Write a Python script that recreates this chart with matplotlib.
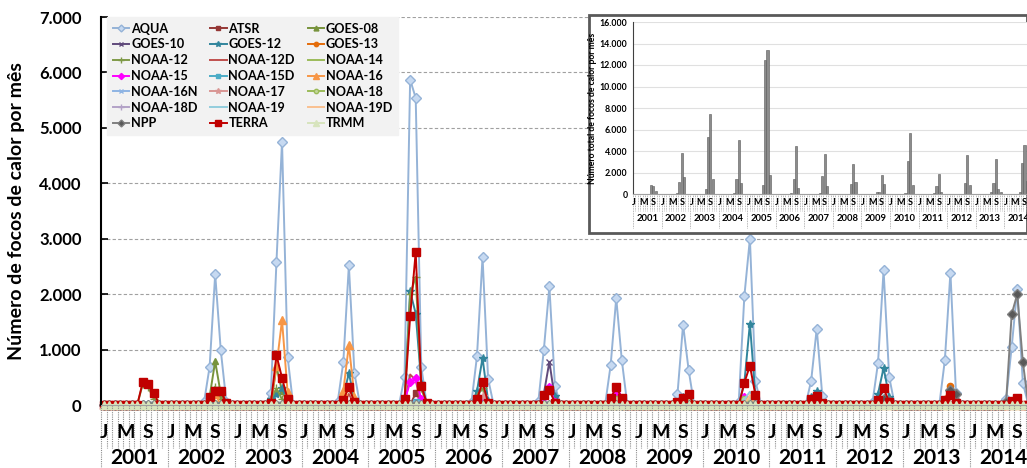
import numpy as np
import matplotlib.pyplot as plt
import matplotlib as mpl
from matplotlib import ticker
from matplotlib.patches import Rectangle

plt.rcParams['font.family'] = ['Lato', 'DejaVu Sans']
plt.rcParams['font.weight'] = 'bold'

# Data: monthly heat-spot counts, only non-zero months listed as (year, month): value
years = list(range(2001, 2015))
month_letters = ['J', '', '', '', 'M', '', '', '', 'S', '', '', '']

aqua = {(2002, 7): 50, (2002, 8): 690, (2002, 9): 2360, (2002, 10): 990, (2002, 11): 60,
        (2003, 7): 220, (2003, 8): 2580, (2003, 9): 4750, (2003, 10): 870,
        (2004, 7): 60, (2004, 8): 770, (2004, 9): 2520, (2004, 10): 575,
        (2005, 7): 510, (2005, 8): 5870, (2005, 9): 5540, (2005, 10): 690,
        (2006, 7): 40, (2006, 8): 880, (2006, 9): 2670, (2006, 10): 470,
        (2007, 7): 50, (2007, 8): 990, (2007, 9): 2140, (2007, 10): 340,
        (2008, 8): 720, (2008, 9): 1930, (2008, 10): 810,
        (2009, 8): 200, (2009, 9): 1450, (2009, 10): 630,
        (2010, 7): 60, (2010, 8): 1960, (2010, 9): 3000, (2010, 10): 430,
        (2011, 8): 440, (2011, 9): 1380, (2011, 10): 160,
        (2012, 7): 40, (2012, 8): 760, (2012, 9): 2430, (2012, 10): 510,
        (2013, 8): 810, (2013, 9): 2390, (2013, 10): 215,
        (2014, 7): 100, (2014, 8): 1050, (2014, 9): 2100, (2014, 10): 400}
atsr = {(2005, 9): 215, (2005, 10): 60, (2006, 9): 60}
goes08 = {(2002, 8): 150, (2002, 9): 790, (2002, 10): 200,
          (2003, 8): 690, (2003, 9): 250, (2003, 10): 50}
goes10 = {(2007, 8): 200, (2007, 9): 780, (2007, 10): 100, (2008, 9): 150}
goes12 = {(2003, 7): 100, (2003, 8): 200, (2003, 9): 300, (2003, 10): 80,
          (2004, 8): 150, (2004, 9): 575, (2004, 10): 100,
          (2005, 7): 110, (2005, 8): 2050, (2005, 9): 1650, (2005, 10): 400,
          (2006, 8): 250, (2006, 9): 850, (2006, 10): 70,
          (2007, 8): 180, (2007, 9): 250, (2007, 10): 170,
          (2009, 9): 150, (2009, 10): 60,
          (2010, 8): 400, (2010, 9): 1470, (2010, 10): 150,
          (2011, 8): 150, (2011, 9): 250,
          (2012, 8): 200, (2012, 9): 670, (2012, 10): 150}
goes13 = {(2013, 8): 100, (2013, 9): 340, (2014, 9): 100}
noaa12 = {(2001, 8): 380, (2001, 9): 320, (2001, 10): 100,
          (2002, 8): 120, (2002, 9): 330, (2002, 10): 100,
          (2003, 7): 100, (2003, 8): 300, (2003, 9): 100, (2003, 10): 70,
          (2004, 8): 140, (2004, 9): 300, (2004, 10): 100,
          (2005, 8): 2000, (2005, 9): 2310, (2005, 10): 300,
          (2006, 8): 170, (2006, 9): 300}
noaa12d = {(2004, 9): 200, (2005, 8): 550, (2005, 9): 450}
noaa14 = {(2001, 9): 50, (2002, 9): 80}
noaa15 = {(2005, 7): 80, (2005, 8): 410, (2005, 9): 480, (2005, 10): 100,
          (2006, 9): 90, (2007, 8): 150, (2007, 9): 330, (2007, 10): 50,
          (2008, 8): 60, (2008, 9): 215, (2008, 10): 50, (2010, 8): 140}
noaa15d = {(2005, 9): 60}
noaa16 = {(2002, 8): 50, (2002, 9): 200,
          (2003, 7): 50, (2003, 8): 700, (2003, 9): 1530, (2003, 10): 230,
          (2004, 8): 250, (2004, 9): 1080, (2004, 10): 150}
noaa16n = {(2005, 9): 40}
noaa17 = {(2006, 9): 170}
noaa18 = {(2008, 9): 100, (2009, 9): 50, (2009, 10): 70, (2010, 8): 100, (2010, 9): 100,
          (2011, 8): 50, (2011, 9): 60, (2012, 9): 100}
noaa18d = {(2010, 9): 40}
noaa19 = {(2010, 8): 100, (2010, 9): 240, (2010, 10): 95}
noaa19d = {(2010, 9): 180}
npp = {(2012, 9): 100, (2012, 10): 80, (2013, 8): 80, (2013, 9): 270, (2013, 10): 200,
       (2014, 7): 60, (2014, 8): 1640, (2014, 9): 2000, (2014, 10): 780}
terra = {(2001, 8): 415, (2001, 9): 380, (2001, 10): 215,
         (2002, 8): 150, (2002, 9): 250, (2002, 10): 250, (2002, 11): 40,
         (2003, 7): 30, (2003, 8): 900, (2003, 9): 490, (2003, 10): 100,
         (2004, 8): 90, (2004, 9): 325, (2004, 10): 50,
         (2005, 7): 100, (2005, 8): 1600, (2005, 9): 2760, (2005, 10): 350, (2005, 11): 30,
         (2006, 8): 100, (2006, 9): 420, (2006, 10): 40,
         (2007, 8): 180, (2007, 9): 270, (2007, 10): 40,
         (2008, 8): 120, (2008, 9): 325, (2008, 10): 120,
         (2009, 8): 60, (2009, 9): 120, (2009, 10): 190,
         (2010, 8): 400, (2010, 9): 710, (2010, 10): 175,
         (2011, 8): 110, (2011, 9): 160, (2011, 10): 30,
         (2012, 8): 90, (2012, 9): 300, (2012, 10): 60,
         (2013, 8): 90, (2013, 9): 180, (2013, 10): 40,
         (2014, 8): 70, (2014, 9): 120}
trmm = {}

# Totals shown in the inset bar chart
total = {(2001, 8): 800, (2001, 9): 700, (2001, 10): 300,
         (2002, 7): 100, (2002, 8): 1100, (2002, 9): 3800, (2002, 10): 1550,
         (2003, 7): 500, (2003, 8): 5300, (2003, 9): 7400, (2003, 10): 1400,
         (2004, 7): 100, (2004, 8): 1400, (2004, 9): 5000, (2004, 10): 1000,
         (2005, 7): 800, (2005, 8): 12500, (2005, 9): 13400, (2005, 10): 1800,
         (2006, 7): 100, (2006, 8): 1400, (2006, 9): 4500, (2006, 10): 600,
         (2007, 7): 100, (2007, 8): 1700, (2007, 9): 3700, (2007, 10): 700,
         (2008, 8): 950, (2008, 9): 2800, (2008, 10): 1100,
         (2009, 7): 150, (2009, 8): 200, (2009, 9): 1800, (2009, 10): 950,
         (2010, 7): 100, (2010, 8): 3100, (2010, 9): 5700, (2010, 10): 850,
         (2011, 7): 100, (2011, 8): 750, (2011, 9): 1850, (2011, 10): 150,
         (2012, 8): 1050, (2012, 9): 3600, (2012, 10): 800,
         (2013, 7): 200, (2013, 8): 1050, (2013, 9): 3250, (2013, 10): 500, (2013, 11): 150,
         (2014, 7): 150, (2014, 8): 2900, (2014, 9): 4550, (2014, 10): 1200}

names = ['AQUA', 'ATSR', 'GOES-08', 'GOES-10', 'GOES-12', 'GOES-13', 'NOAA-12', 'NOAA-12D',
         'NOAA-14', 'NOAA-15', 'NOAA-15D', 'NOAA-16', 'NOAA-16N', 'NOAA-17', 'NOAA-18',
         'NOAA-18D', 'NOAA-19', 'NOAA-19D', 'NPP', 'TERRA', 'TRMM']
series = [aqua, atsr, goes08, goes10, goes12, goes13, noaa12, noaa12d, noaa14, noaa15, noaa15d,
          noaa16, noaa16n, noaa17, noaa18, noaa18d, noaa19, noaa19d, npp, terra, trmm]

# styles: color, marker, marker face, size
styles = [('#95B3D7', 'D', '#C6D9F1', 5), ('#953735', 's', '#953735', 4.5),
          ('#77933C', '^', '#77933C', 5), ('#604A7B', 'x', '#604A7B', 5),
          ('#31859C', '*', '#31859C', 6), ('#E46C0A', 'o', '#E46C0A', 4.5),
          ('#7F9A48', '+', '#7F9A48', 6), ('#C0504D', '', None, 0),
          ('#9BBB59', '', None, 0), ('#FF00FF', 'D', '#FF00FF', 4.5),
          ('#4BACC6', 's', '#4BACC6', 4.5), ('#F79646', '^', '#F79646', 6),
          ('#8EB4E3', 'x', '#8EB4E3', 5), ('#D99694', '*', '#D99694', 6),
          ('#9BBB59', 'o', '#C3D69B', 4.5), ('#B3A2C7', '+', '#B3A2C7', 6),
          ('#93CDDD', '', None, 0), ('#FAC090', '', None, 0),
          ('#7F7F7F', 'D', '#595959', 5), ('#C00000', 's', '#C00000', 5.8),
          ('#D7E4BD', '^', '#D7E4BD', 6)]

n_months = len(years) * 12
month_keys = [(y, m) for y in years for m in range(1, 13)]


def to_array(d):
    return np.array([d.get(k, 0) for k in month_keys], dtype=float)


x = np.arange(n_months)
W, H = 1027, 468
fig = plt.figure(figsize=(W / 100, H / 100), dpi=100)

# Main axes
ax = fig.add_axes([101 / W, 1 - 405 / H, 1 - 101 / W, (405 - 17) / H])
for name, d, (c, mk, fc, ms) in zip(names, series, styles):
    ax.plot(x, to_array(d), color=c, lw=1.4, marker=mk if mk else None, markersize=ms,
            markerfacecolor=fc, markeredgecolor=c, markeredgewidth=1.0, label=name, clip_on=False)

ax.set_xlim(-0.5, -0.5 + (1027 - 101) / 5.57)
ax.set_ylim(0, 7000)
ax.yaxis.set_major_locator(ticker.MultipleLocator(1000))
ax.yaxis.set_major_formatter(ticker.FuncFormatter(lambda v, p: f"{int(v):,}".replace(",", ".")))
ax.tick_params(axis='y', direction='in', length=5, width=1.2, labelsize=12, pad=14, colors='black')
for lab in ax.get_yticklabels():
    lab.set_fontweight('bold')
ax.set_xticks([])
ax.grid(axis='y', linestyle=(0, (3, 2)), color='#A0A0A0', lw=0.8)
ax.set_axisbelow(True)
ax.spines['top'].set_visible(False)
ax.spines['right'].set_visible(False)
ax.spines['left'].set_linewidth(1.5)
ax.spines['bottom'].set_color('#A0A0A0')
ax.set_ylabel('Número de focos de calor por mês', fontsize=14, fontweight='bold', labelpad=10)

trans = mpl.transforms.blended_transform_factory(ax.transData, ax.transAxes)
for i in range(n_months + 1):
    year_edge = (i % 12 == 0)
    ax.plot([i - 0.5, i - 0.5], [0, -0.165 if year_edge else -0.11], transform=trans,
            color='#8C8C8C', lw=0.8, ls=(0, (1, 1)), clip_on=False)
for i, k in enumerate(month_keys):
    lt = month_letters[k[1] - 1]
    if lt:
        ax.text(i, -0.072, lt, transform=trans, ha='center', va='center', fontsize=14,
                fontweight='bold', clip_on=False)
for j, yr in enumerate(years):
    ax.text(j * 12 + 5.5, -0.137, str(yr), transform=trans, ha='center', va='center',
            fontsize=15, fontweight='bold', clip_on=False)

# Legend, filled row by row like the original
h, l = ax.get_legend_handles_labels()
order = [r * 3 + c for c in range(3) for r in range(7)]
leg = ax.legend([h[i] for i in order], [l[i] for i in order], ncol=3, loc='upper left',
                bbox_to_anchor=(107 / W, 1 - 17 / H), bbox_transform=fig.transFigure,
                fontsize=9.1, frameon=True, fancybox=False, handlelength=1.3, markerscale=0.7,
                handletextpad=0.15, columnspacing=1.0, labelspacing=0.3, borderpad=0.45,
                borderaxespad=0)
leg.get_frame().set_facecolor('#F2F2F2')
leg.get_frame().set_edgecolor('#F2F2F2')
leg.get_frame().set_alpha(1)
leg.set_zorder(1)
for t in leg.get_texts():
    t.set_fontweight('bold')

# Inset: totals per month
fig.patches.append(Rectangle((589 / W, 1 - 233 / H), (1027 - 589) / W, (233 - 15) / H,
                             transform=fig.transFigure, facecolor='white', edgecolor='#595959',
                             lw=2, zorder=5))
ax2 = fig.add_axes([633 / W, 1 - 194 / H, (1027 - 633) / W, (194 - 22) / H], zorder=6)
ax2.bar(x, to_array(total), width=0.9, color='#8C8C8C', edgecolor='#595959', lw=0.4)
ax2.set_xlim(-0.5, -0.5 + (1027 - 633) / 2.38)
ax2.set_ylim(0, 16000)
ax2.yaxis.set_major_locator(ticker.MultipleLocator(2000))
ax2.yaxis.set_major_formatter(ticker.FuncFormatter(lambda v, p: f"{int(v):,}".replace(",", ".")))
ax2.tick_params(axis='y', length=0, labelsize=6.3, pad=4)
for lab in ax2.get_yticklabels():
    lab.set_fontweight('bold')
ax2.set_xticks([])
ax2.grid(axis='y', color='#E0E0E0', lw=0.8)
ax2.set_axisbelow(True)
for s in ['top', 'right']:
    ax2.spines[s].set_visible(False)
ax2.spines['left'].set_color('#404040')
ax2.spines['bottom'].set_color('#A0A0A0')
ax2.set_ylabel('Número total de focos de calor por mês', fontsize=6.2, fontweight='bold', labelpad=2)

trans2 = mpl.transforms.blended_transform_factory(ax2.transData, ax2.transAxes)
for i in range(n_months + 1):
    year_edge = (i % 12 == 0)
    ax2.plot([i - 0.5, i - 0.5], [0, -0.2 if year_edge else -0.1], transform=trans2,
             color='#A0A0A0', lw=0.6, ls=(0, (1, 1)), clip_on=False)
for i, k in enumerate(month_keys):
    lt = month_letters[k[1] - 1]
    if lt:
        ax2.text(i, -0.05, lt, transform=trans2, ha='center', va='center', fontsize=6.5,
                 fontweight='bold', clip_on=False)
for j, yr in enumerate(years):
    ax2.text(j * 12 + 5.5, -0.145, str(yr), transform=trans2, ha='center', va='center',
             fontsize=6.8, fontweight='bold', clip_on=False)

fig.savefig('out.png', dpi=100)
